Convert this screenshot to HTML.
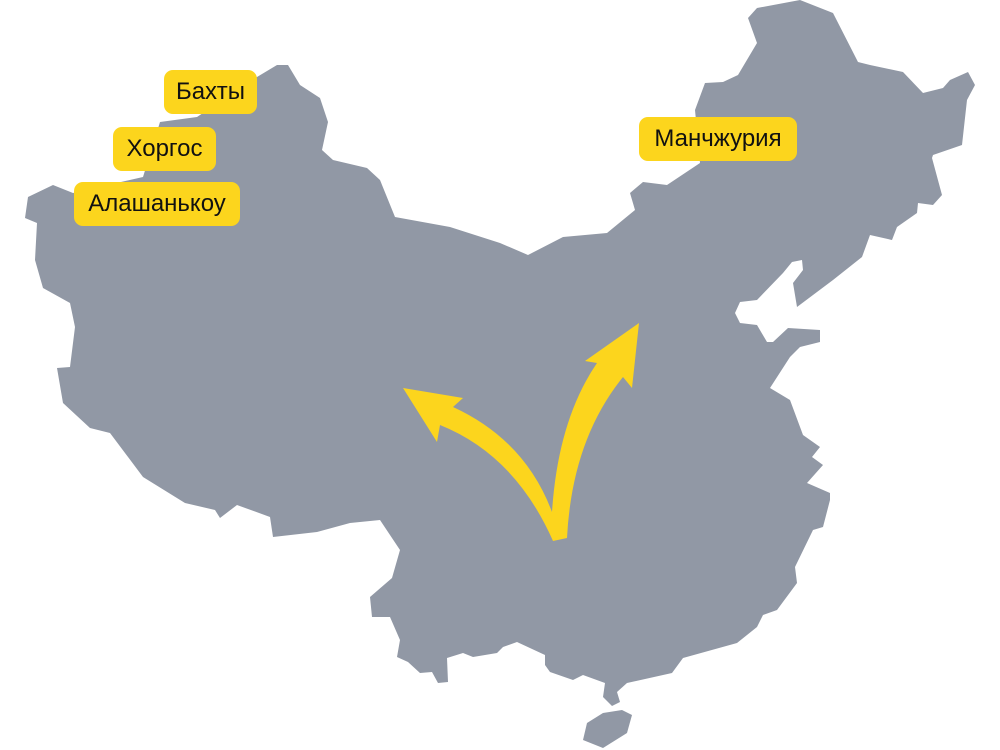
<!DOCTYPE html>
<html><head><meta charset="utf-8"><style>
html,body{margin:0;padding:0;background:#fff;width:1000px;height:750px;overflow:hidden}
.l{position:absolute;background:#fcd51d;border-radius:9px;font-family:"Liberation Sans",sans-serif;font-size:24px;color:#111;display:flex;align-items:center;justify-content:center;height:44px}
</style></head><body>
<svg width="1000" height="750" style="position:absolute;left:0;top:0">
<path fill="#9198a5" d="M277,65 L288,65 L300,85 L320,98 L328,122 L322,150 L333,160 L367,168 L380,180 L395,217 L450,227 L500,243 L528,255 L563,237 L607,233 L635,210 L630,193 L643,182 L667,185 L700,163 L695,110 L705,83 L723,82 L738,75 L757,43 L748,18 L757,8 L800,0 L833,13 L858,62 L870,65 L903,72 L923,93 L943,88 L950,80 L968,72 L975,85 L967,100 L962,145 L933,155 L932,158 L942,195 L933,205 L918,203 L917,213 L897,227 L892,240 L870,235 L862,257 L833,280 L797,307 L793,283 L803,270 L802,260 L792,262 L783,273 L757,300 L740,302 L735,313 L740,323 L757,325 L767,342 L773,342 L788,328 L820,330 L820,342 L800,347 L790,357 L770,388 L790,400 L803,435 L820,447 L812,457 L823,465 L807,483 L830,493 L830,500 L823,527 L813,530 L795,567 L797,583 L777,610 L763,615 L757,627 L737,643 L683,658 L672,673 L627,683 L617,692 L620,702 L612,706 L603,697 L605,683 L583,675 L573,680 L550,672 L545,665 L545,655 L517,642 L503,647 L497,653 L473,657 L463,653 L447,658 L448,682 L438,683 L432,672 L420,673 L408,662 L397,657 L400,640 L390,617 L372,617 L370,597 L392,578 L400,550 L380,520 L350,523 L317,532 L273,537 L270,517 L237,505 L220,518 L215,510 L185,503 L143,477 L110,433 L90,428 L63,403 L57,368 L70,367 L75,327 L70,303 L43,288 L35,260 L37,223 L25,218 L28,197 L53,185 L73,193 L143,177 L160,122 L197,117 L257,77 Z"/>
<path fill="#9198a5" d="M587,723 L603,713 L622,710 L632,715 L627,733 L603,748 L583,740 Z"/>
<path fill="#fcd51d" d="M553,541 Q515,455 440,425 L437,442 L403,388 L463,398 L453,407 Q525,440 552,512 Q558,420 597,363 L585,361 L639,323 L632,388 L623,377 Q572,440 567,538 Z"/>
</svg>
<div class="l" style="left:164px;top:70px;width:93px">Бахты</div>
<div class="l" style="left:113px;top:127px;width:103px">Хоргос</div>
<div class="l" style="left:74px;top:182px;width:166px">Алашанькоу</div>
<div class="l" style="left:639px;top:117px;width:158px">Манчжурия</div>
</body></html>
